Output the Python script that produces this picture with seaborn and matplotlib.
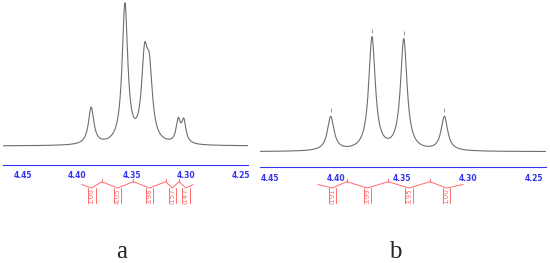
import numpy as np
import pandas as pd
import matplotlib.pyplot as plt
import seaborn as sns
from matplotlib.ticker import MultipleLocator, FormatStrFormatter

sns.set_style('white')

# ── peak lists (ppm, height in px, half width in ppm) ──
A_SHIFTS = [4.387, 4.356, 4.338, 4.3335, 4.307, 4.302]
A_HEIGHTS = [37, 139, 77, 62, 22, 22]
A_WIDTHS = [0.0030, 0.0031, 0.0033, 0.0033, 0.0024, 0.0024]

B_SHIFTS = [4.404, 4.3727, 4.3486, 4.3178]
B_HEIGHTS = [34, 113, 111, 34]
B_WIDTHS = [0.0030, 0.0030, 0.0030, 0.0030]

# ── integral regions (edges in ppm) and their values ──
A_INT_EDGES = [4.3957, 4.3773, 4.3483, 4.3186, 4.3064, 4.2936]
A_INT_VALUES = ['1.00', '4.05', '3.98', '0.57', '0.47']
B_INT_EDGES = [4.4137, 4.3919, 4.3605, 4.3287, 4.3036]
B_INT_VALUES = ['0.91', '3.99', '3.95', '1.00']

W, H = 550, 263
BLUE = '#3434f0'
RED = '#ff6b6b'
GREY = '#6e6e6e'

fig = plt.figure(figsize=(W / 100, H / 100), dpi=100)


def spectrum(ppm, shifts, heights, widths):
    y = np.zeros_like(ppm)
    for s, h, w in zip(shifts, heights, widths):
        y += h * w ** 2 / ((ppm - s) ** 2 + w ** 2)
    return y


def draw_panel(x0, x1, lim, shifts, heights, widths, base, axis_y,
               edges, values, letter, letter_x, peak_marks=False):
    ax = fig.add_axes([x0 / W, 0, (x1 - x0) / W, 1])
    ppm = np.linspace(lim[0], lim[1], 1500)
    inten = spectrum(ppm, shifts, heights, widths)
    df = pd.DataFrame({'ppm': ppm, 'y': base - inten})
    sns.lineplot(data=df, x='ppm', y='y', ax=ax, color=GREY, lw=0.8)
    ax.set_xlim(lim)
    ax.set_ylim(H, 0)
    ax.set_xlabel('')
    ax.set_ylabel('')
    ax.set_yticks([])
    for side in ['top', 'left', 'right']:
        ax.spines[side].set_visible(False)
    ax.spines['bottom'].set_position(('data', axis_y))
    ax.spines['bottom'].set_color(BLUE)
    ax.spines['bottom'].set_linewidth(0.8)
    ax.xaxis.set_major_locator(MultipleLocator(0.05))
    ax.xaxis.set_minor_locator(MultipleLocator(0.01))
    ax.xaxis.set_major_formatter(FormatStrFormatter('%.2f'))
    ax.tick_params(axis='x', which='major', direction='out', length=2.5,
                   width=0.8, color=BLUE, labelcolor=BLUE, labelsize=5.5, pad=2.0)
    ax.tick_params(axis='x', which='minor', direction='inout', length=1.5,
                   width=0.6, color=BLUE)
    for lab in ax.get_xticklabels():
        lab.set_fontweight('bold')

    # peak picking marks
    if peak_marks:
        tops = base - spectrum(np.array(shifts), shifts, heights, widths)
        ax.plot(shifts, tops - 6, ls='none', marker='|', ms=3, mew=0.6, color='#888888')

    # integral brackets
    px = (lim[0] - lim[1]) / (x1 - x0)  # ppm per pixel
    y_hi, y_end, y_lo, y_box = 181.7, 184.5, 188.0, 203.0
    mids = [(a + b) / 2 for a, b in zip(edges[:-1], edges[1:])]
    xs, ys = [edges[0]], [y_end]
    for i, m in enumerate(mids):
        xs += [m, edges[i + 1]]
        ys += [y_lo, y_hi if i < len(mids) - 1 else y_end]
    ax.plot(xs, ys, color=RED, lw=0.7)
    for e in edges[1:-1]:
        ax.plot([e, e], [y_hi, y_hi - 2.5], color=RED, lw=0.7)
    d = 3.8 * px
    for m, v in zip(mids, values):
        ax.plot([m + d, m + d], [y_lo - 0.5, y_box], color=RED, lw=0.7)
        ax.plot([m - d, m - d], [y_lo - 0.5, y_box], color=RED, lw=0.7)
        ax.text(m, (y_lo + y_box) / 2 + 0.5, v, rotation=90, ha='center', va='center',
                fontsize=5, color=RED)

    fig.text(letter_x / W, 1 - 258 / H, letter, ha='center', va='baseline',
             fontsize=18, family='Liberation Serif')
    return ax


draw_panel(3, 248, (4.4679, 4.2431), A_SHIFTS, A_HEIGHTS, A_WIDTHS, 146, 165,
           A_INT_EDGES, A_INT_VALUES, 'a', 122)
draw_panel(260, 546, (4.4577, 4.2407), B_SHIFTS, B_HEIGHTS, B_WIDTHS, 151.7, 167.3,
           B_INT_EDGES, B_INT_VALUES, 'b', 395, peak_marks=True)

plt.savefig('out.png', dpi=100)
